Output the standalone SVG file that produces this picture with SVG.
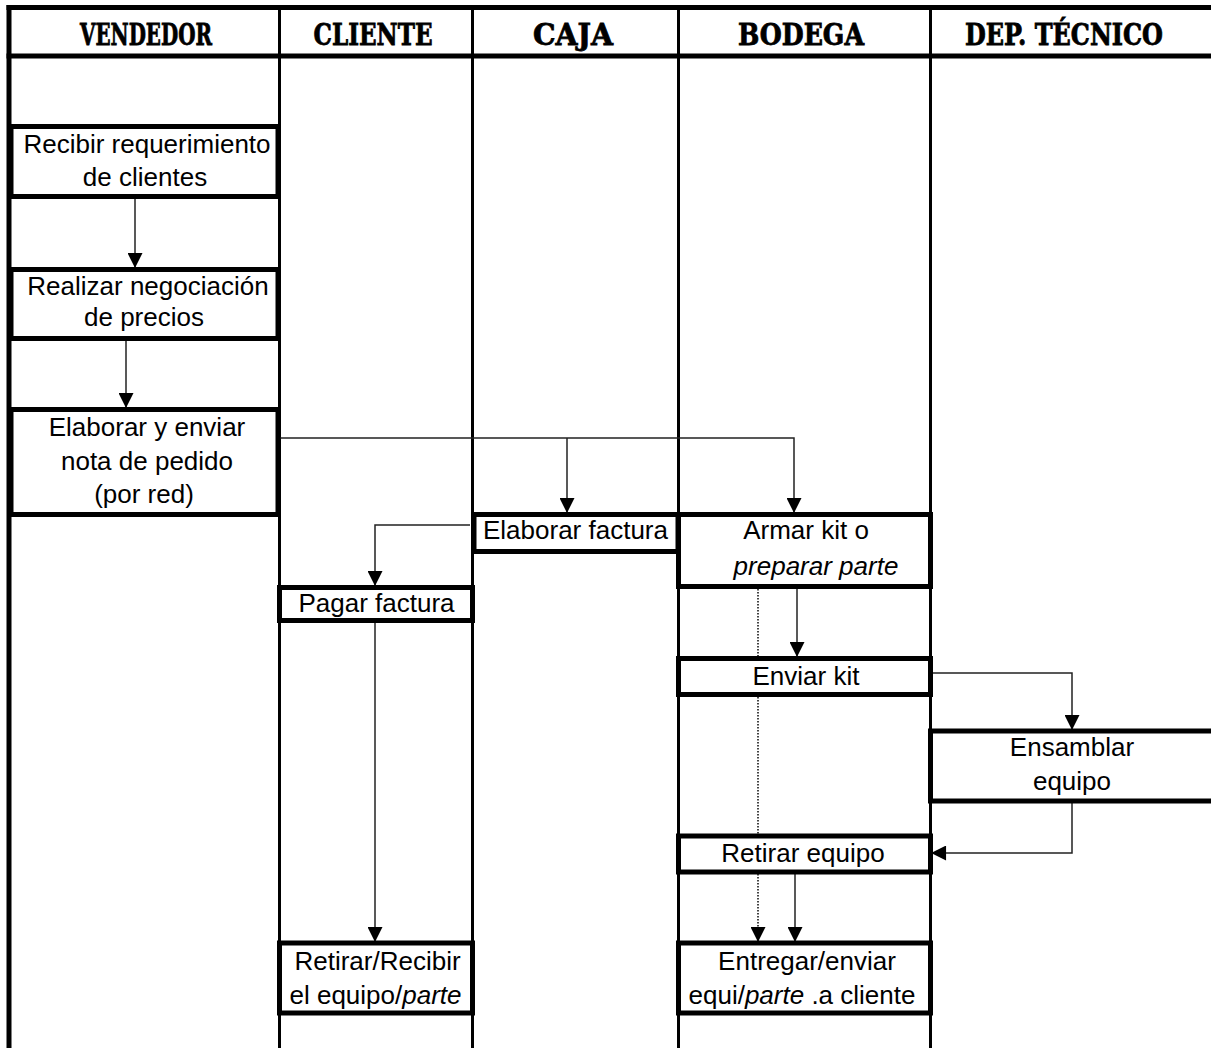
<svg xmlns="http://www.w3.org/2000/svg" width="1211" height="1048" viewBox="0 0 1211 1048">
<style>
.hd{font-family:"DejaVu Serif","Liberation Serif",serif;font-weight:bold;font-size:29px;fill:#000;stroke:#000;stroke-width:0.8}
.t{font-family:"Liberation Sans",Arial,sans-serif;font-size:26px;fill:#000}
.it{font-style:italic}
.box{fill:#fff;stroke:#000;stroke-width:5}
.lane{stroke:#000;stroke-width:3;fill:none}
.border{stroke:#000;stroke-width:5;fill:none}
.c{stroke:#222;stroke-width:1.5;fill:none;marker-end:url(#ah)}
.d{stroke:#444;stroke-width:2;stroke-dasharray:1.5 1.5;fill:none;marker-end:url(#ah)}
</style>
<defs>
<marker id="ah" markerUnits="userSpaceOnUse" markerWidth="16" markerHeight="15" refX="15" refY="8" orient="auto" viewBox="0 0 16 16">
<path d="M0,0 L16,8 L0,16 Z" fill="#000"/>
</marker>
</defs>
<rect width="1211" height="1048" fill="#fff"/>
<g id="lanes">
<line class="lane" x1="279.5" y1="58" x2="279.5" y2="1048"/>
<line class="lane" x1="472.5" y1="58" x2="472.5" y2="1048"/>
<line class="lane" x1="678.5" y1="58" x2="678.5" y2="1048"/>
<line class="lane" x1="930.5" y1="58" x2="930.5" y2="1048"/>
<line class="border" x1="9" y1="5" x2="9" y2="1048"/>
<line class="border" x1="6.5" y1="7.5" x2="1211" y2="7.5"/>
<line class="border" x1="6.5" y1="56" x2="1211" y2="56"/>
<line class="lane" x1="279.5" y1="7" x2="279.5" y2="56"/>
<line class="lane" x1="472.5" y1="7" x2="472.5" y2="56"/>
<line class="lane" x1="678.5" y1="7" x2="678.5" y2="56"/>
<line class="lane" x1="930.5" y1="7" x2="930.5" y2="56"/>
</g>
<g id="header">
<text class="hd" x="146" y="45" text-anchor="middle" textLength="132" lengthAdjust="spacingAndGlyphs">VENDEDOR</text>
<text class="hd" x="373" y="45" text-anchor="middle" textLength="119" lengthAdjust="spacingAndGlyphs">CLIENTE</text>
<text class="hd" x="573" y="45" text-anchor="middle" textLength="80" lengthAdjust="spacingAndGlyphs">CAJA</text>
<text class="hd" x="801" y="45" text-anchor="middle" textLength="126" lengthAdjust="spacingAndGlyphs">BODEGA</text>
<text class="hd" x="1064" y="45" text-anchor="middle" textLength="198" lengthAdjust="spacingAndGlyphs">DEP. TÉCNICO</text>
</g>
<g id="connectors">
<line class="c" x1="135" y1="199" x2="135" y2="267"/>
<line class="c" x1="126" y1="341" x2="126" y2="407"/>
<polyline class="c" points="275,438 794,438 794,512"/>
<line class="c" x1="567" y1="438" x2="567" y2="512"/>
<polyline class="c" points="470,525 375,525 375,585"/>
<line class="c" x1="375" y1="622" x2="375" y2="941"/>
<line class="c" x1="797" y1="589" x2="797" y2="656"/>
<line class="d" x1="758" y1="589" x2="758" y2="941"/>
<polyline class="c" points="925,673 1072,673 1072,729"/>
<polyline class="c" points="1072,803 1072,853 932,853"/>
<line class="c" x1="795" y1="874" x2="795" y2="941"/>
</g>
<g id="n1">
<rect class="box" x="11" y="126.5" width="267" height="70"/>
<text class="t" x="147" y="153" text-anchor="middle">Recibir requerimiento</text>
<text class="t" x="145" y="186" text-anchor="middle">de clientes</text>
</g>
<g id="n2">
<rect class="box" x="11" y="269.5" width="267" height="69"/>
<text class="t" x="148" y="295" text-anchor="middle">Realizar negociación</text>
<text class="t" x="144" y="326" text-anchor="middle">de precios</text>
</g>
<g id="n3">
<rect class="box" x="11" y="409.5" width="267" height="105"/>
<text class="t" x="147" y="436" text-anchor="middle">Elaborar y enviar</text>
<text class="t" x="147" y="470" text-anchor="middle">nota de pedido</text>
<text class="t" x="144" y="503" text-anchor="middle">(por red)</text>
</g>
<g id="n4">
<rect class="box" x="474" y="514.5" width="204" height="37"/>
<text class="t" x="575.5" y="539" text-anchor="middle">Elaborar factura</text>
</g>
<g id="n5">
<rect class="box" x="678.5" y="514.5" width="252" height="72"/>
<text class="t" x="806" y="539" text-anchor="middle">Armar kit o</text>
<text class="t it" x="816" y="575" text-anchor="middle">preparar parte</text>
</g>
<g id="n6">
<rect class="box" x="279.5" y="587.5" width="193" height="33"/>
<text class="t" x="376.5" y="612" text-anchor="middle">Pagar factura</text>
</g>
<g id="n7">
<rect class="box" x="678.5" y="658.5" width="252" height="36"/>
<text class="t" x="806" y="685" text-anchor="middle">Enviar kit</text>
</g>
<g id="n8">
<rect class="box" x="930.5" y="731" width="290" height="70"/>
<text class="t" x="1072" y="756" text-anchor="middle">Ensamblar</text>
<text class="t" x="1072" y="790" text-anchor="middle">equipo</text>
</g>
<g id="n9">
<rect class="box" x="678.5" y="836" width="252" height="36"/>
<text class="t" x="803" y="862" text-anchor="middle">Retirar equipo</text>
</g>
<g id="n10">
<rect class="box" x="279.5" y="943" width="193" height="70"/>
<text class="t" x="377.5" y="970" text-anchor="middle">Retirar/Recibir</text>
<text class="t" x="375.5" y="1004" text-anchor="middle">el equipo/<tspan class="it">parte</tspan></text>
</g>
<g id="n11">
<rect class="box" x="678.5" y="943" width="252" height="70"/>
<text class="t" x="807" y="970" text-anchor="middle">Entregar/enviar</text>
<text class="t" x="802" y="1004" text-anchor="middle">equi/<tspan class="it">parte</tspan> .a cliente</text>
</g>
</svg>
